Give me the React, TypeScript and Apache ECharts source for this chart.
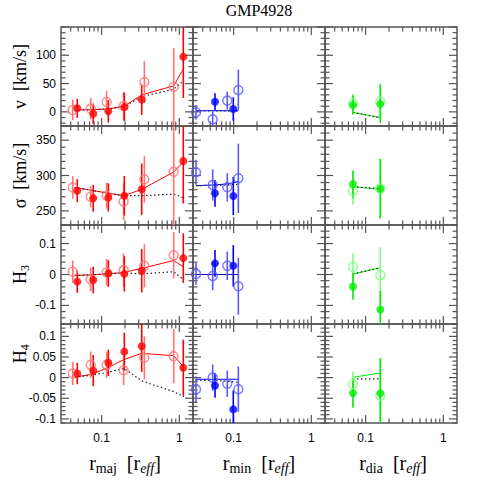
import React, { useEffect, useRef } from 'react';
import * as echarts from 'echarts';

const TITLE = 'GMP4928';

// ---- x axis (log radius) ----
const X_RANGE = [0.03, 1.5];
const X_MAJOR_TICKS = [0.1, 1];
const X_MINOR_TICKS = [0.04, 0.05, 0.06, 0.07, 0.08, 0.09, 0.2, 0.3, 0.4, 0.5, 0.6, 0.7, 0.8, 0.9];
const X_TICK_LABELS = [0.1, 1];

// ---- y rows ----
const V_RANGE = [-25, 150];
const V_LABELS = [0, 50, 100];
const S_RANGE = [230, 370];
const S_LABELS = [250, 300, 350];
const H3_RANGE = [-0.16, 0.16];
const H3_LABELS = [-0.1, 0, 0.1];
const H4_RANGE = [-0.11, 0.13];
const H4_LABELS = [-0.1, -0.05, 0, 0.05, 0.1];

// ---- major axis (red) ----
const MAJ_OPEN_R = [0.0425, 0.0723, 0.116, 0.192, 0.355, 0.846];
const MAJ_FILL_R = [0.0486, 0.078, 0.122, 0.196, 0.328, 1.125];
const MAJ_LINE_R = [0.045, 0.075, 0.12, 0.194, 0.33, 0.846, 1.15];

const MAJ_V_OPEN = [3.4, 5.7, 17.5, 10.4, 52.8, 44.5];
const MAJ_V_OPEN_ERR = [18, 19, 20, 25, 37, 68];
const MAJ_V_FILL = [6.3, -3.2, 1, 8.7, 21.6, 97.5];
const MAJ_V_FILL_ERR = [17, 18, 20, 25, 27, 73];
const MAJ_V_MODEL = [3, 4, 5, 10, 30, 46, 78];
const MAJ_V_MODEL2 = [3, 4, 5, 9, 27, 40, 56];

const MAJ_S_OPEN = [283, 270, 271.4, 263, 294.6, 305.4];
const MAJ_S_OPEN_ERR = [16, 15, 18, 26, 33, 80];
const MAJ_S_FILL = [278.5, 267.7, 269, 271.4, 280.5, 320.5];
const MAJ_S_FILL_ERR = [16.5, 19, 20, 28, 36.5, 60];
const MAJ_S_MODEL = [283, 279, 275, 271.4, 280.5, 305, 320];
const MAJ_S_MODEL2 = [283, 279, 275, 271.4, 271.4, 273.7, 268.5];

const MAJ_H3_OPEN = [0.009, -0.016, 0.007, 0.014, 0.028, 0.062];
const MAJ_H3_OPEN_ERR = [0.036, 0.038, 0.043, 0.054, 0.07, 0.075];
const MAJ_H3_FILL = [-0.023, -0.018, 0.003, 0.002, 0.012, 0.053];
const MAJ_H3_FILL_ERR = [0.036, 0.043, 0.043, 0.057, 0.07, 0.08];
const MAJ_H3_MODEL = [-0.003, -0.001, 0.002, 0.007, 0.02, 0.045, 0.023];
const MAJ_H3_MODEL2 = [-0.003, -0.001, 0.002, 0.005, 0.002, 0.009, -0.018];

const MAJ_H4_OPEN = [0.01, 0.031, 0.031, 0.018, 0.048, 0.052];
const MAJ_H4_OPEN_ERR = [0.028, 0.032, 0.032, 0.036, 0.052, 0.066];
const MAJ_H4_FILL = [0.01, 0.017, 0.036, 0.063, 0.076, 0.024];
const MAJ_H4_FILL_ERR = [0.026, 0.038, 0.032, 0.046, 0.062, 0.068];
const MAJ_H4_MODEL = [0.001, 0.008, 0.024, 0.044, 0.059, 0.053, 0.025];
const MAJ_H4_MODEL2 = [0.001, 0.006, 0.013, 0.0225, -0.008, -0.034, -0.046];

// ---- minor axis (blue) ----
const MIN_OPEN_R = [0.0328, 0.0538, 0.0828, 0.115];
const MIN_FILL_R = [0.0576, 0.099];
const MIN_LINE_R = [0.0328, 0.0538, 0.0828, 0.115];

const MIN_V_OPEN = [-0.7, -13, 19.8, 38.7];
const MIN_V_OPEN_ERR = [13, 13, 16, 36];
const MIN_V_FILL = [18, 5];
const MIN_V_FILL_ERR = [15, 20.6];
const MIN_V_MODEL = [2, 2, 2, 2];
const MIN_V_MODEL2 = [1.5, 1.5, 1.5, 1.5];

const MIN_S_OPEN = [304.5, 286.6, 283.3, 296];
const MIN_S_OPEN_ERR = [17.7, 22, 20, 49];
const MIN_S_FILL = [274.8, 271];
const MIN_S_FILL_ERR = [19, 27];
const MIN_S_MODEL = [285.6, 286.6, 288, 291.3];
const MIN_S_MODEL2 = [285.6, 286.2, 286.6, 287.5];

const MIN_H3_OPEN = [0.002, -0.005, 0.028, -0.038];
const MIN_H3_OPEN_ERR = [0.035, 0.046, 0.046, 0.092];
const MIN_H3_FILL = [0.036, 0.028];
const MIN_H3_FILL_ERR = [0.043, 0.067];
const MIN_H3_MODEL = [0, 0, 0, 0];
const MIN_H3_MODEL2 = [0, 0, 0, 0];

const MIN_H4_OPEN = [-0.028, 0.0, -0.015, -0.028];
const MIN_H4_OPEN_ERR = [0.031, 0.032, 0.032, 0.055];
const MIN_H4_FILL = [-0.019, -0.077];
const MIN_H4_FILL_ERR = [0.03, 0.046];
const MIN_H4_MODEL = [-0.004, -0.004, -0.004, -0.004];
const MIN_H4_MODEL2 = [-0.006, -0.007, -0.009, -0.011];

// ---- diagonal (green) ----
const DIA_R = [0.0687, 0.1545];

const DIA_V_OPEN = [15.2, 18];
const DIA_V_OPEN_ERR = [16, 32];
const DIA_V_FILL = [12.2, 14];
const DIA_V_FILL_ERR = [17, 34];
const DIA_V_MODEL = [-1, -10];
const DIA_V_MODEL2 = [-1, -10.5];

const DIA_S_OPEN = [278, 281.5];
const DIA_S_OPEN_ERR = [19, 42];
const DIA_S_FILL = [288, 281.3];
const DIA_S_FILL_ERR = [19, 42];
const DIA_S_MODEL = [284.2, 280.5];
const DIA_S_MODEL2 = [284.2, 281.5];

const DIA_H3_OPEN = [0.024, -0.002];
const DIA_H3_OPEN_ERR = [0.045, 0.09];
const DIA_H3_FILL = [-0.039, -0.113];
const DIA_H3_FILL_ERR = [0.043, 0.06];
const DIA_H3_MODEL = [0.0015, 0.022];
const DIA_H3_MODEL2 = [0.0015, 0.022];

const DIA_H4_OPEN = [-0.016, -0.044];
const DIA_H4_OPEN_ERR = [0.03, 0.09];
const DIA_H4_FILL = [-0.038, -0.038];
const DIA_H4_FILL_ERR = [0.035, 0.085];
const DIA_H4_MODEL = [0.001, 0.011];
const DIA_H4_MODEL2 = [-0.003, -0.003];

// ---------- layout / style ----------
const GRID_LEFT = 61;
const GRID_TOP = 27;
const CELL_W = 132;
const CELL_H = 99;
const FRAME = '#555555';
const SERIF = "'Liberation Serif', 'DejaVu Serif', serif";
const SANS = "'Liberation Sans', Arial, sans-serif";

const COLORS = [
  { solid: '#ff0000', light: '#ff7272' },
  { solid: '#0000ff', light: '#5a5aff' },
  { solid: '#00ee00', light: '#7dff7d' },
];

const ROWS = [
  { range: V_RANGE, labels: V_LABELS, major: 50, minor: 10, labelStep: 25 },
  { range: S_RANGE, labels: S_LABELS, major: 50, minor: 10, labelStep: 10 },
  { range: H3_RANGE, labels: H3_LABELS, major: 0.1, minor: 0.02, labelStep: 0.02 },
  { range: H4_RANGE, labels: H4_LABELS, major: 0.05, minor: 0.01, labelStep: 0.01 },
];

type Panel = {
  openR: number[]; open: number[]; openErr: number[];
  fillR: number[]; fill: number[]; fillErr: number[];
  lineR: number[]; model: number[]; model2: number[];
};

const PANELS: Panel[][] = [
  [
    { openR: MAJ_OPEN_R, open: MAJ_V_OPEN, openErr: MAJ_V_OPEN_ERR, fillR: MAJ_FILL_R, fill: MAJ_V_FILL, fillErr: MAJ_V_FILL_ERR, lineR: MAJ_LINE_R, model: MAJ_V_MODEL, model2: MAJ_V_MODEL2 },
    { openR: MIN_OPEN_R, open: MIN_V_OPEN, openErr: MIN_V_OPEN_ERR, fillR: MIN_FILL_R, fill: MIN_V_FILL, fillErr: MIN_V_FILL_ERR, lineR: MIN_LINE_R, model: MIN_V_MODEL, model2: MIN_V_MODEL2 },
    { openR: DIA_R, open: DIA_V_OPEN, openErr: DIA_V_OPEN_ERR, fillR: DIA_R, fill: DIA_V_FILL, fillErr: DIA_V_FILL_ERR, lineR: DIA_R, model: DIA_V_MODEL, model2: DIA_V_MODEL2 },
  ],
  [
    { openR: MAJ_OPEN_R, open: MAJ_S_OPEN, openErr: MAJ_S_OPEN_ERR, fillR: MAJ_FILL_R, fill: MAJ_S_FILL, fillErr: MAJ_S_FILL_ERR, lineR: MAJ_LINE_R, model: MAJ_S_MODEL, model2: MAJ_S_MODEL2 },
    { openR: MIN_OPEN_R, open: MIN_S_OPEN, openErr: MIN_S_OPEN_ERR, fillR: MIN_FILL_R, fill: MIN_S_FILL, fillErr: MIN_S_FILL_ERR, lineR: MIN_LINE_R, model: MIN_S_MODEL, model2: MIN_S_MODEL2 },
    { openR: DIA_R, open: DIA_S_OPEN, openErr: DIA_S_OPEN_ERR, fillR: DIA_R, fill: DIA_S_FILL, fillErr: DIA_S_FILL_ERR, lineR: DIA_R, model: DIA_S_MODEL, model2: DIA_S_MODEL2 },
  ],
  [
    { openR: MAJ_OPEN_R, open: MAJ_H3_OPEN, openErr: MAJ_H3_OPEN_ERR, fillR: MAJ_FILL_R, fill: MAJ_H3_FILL, fillErr: MAJ_H3_FILL_ERR, lineR: MAJ_LINE_R, model: MAJ_H3_MODEL, model2: MAJ_H3_MODEL2 },
    { openR: MIN_OPEN_R, open: MIN_H3_OPEN, openErr: MIN_H3_OPEN_ERR, fillR: MIN_FILL_R, fill: MIN_H3_FILL, fillErr: MIN_H3_FILL_ERR, lineR: MIN_LINE_R, model: MIN_H3_MODEL, model2: MIN_H3_MODEL2 },
    { openR: DIA_R, open: DIA_H3_OPEN, openErr: DIA_H3_OPEN_ERR, fillR: DIA_R, fill: DIA_H3_FILL, fillErr: DIA_H3_FILL_ERR, lineR: DIA_R, model: DIA_H3_MODEL, model2: DIA_H3_MODEL2 },
  ],
  [
    { openR: MAJ_OPEN_R, open: MAJ_H4_OPEN, openErr: MAJ_H4_OPEN_ERR, fillR: MAJ_FILL_R, fill: MAJ_H4_FILL, fillErr: MAJ_H4_FILL_ERR, lineR: MAJ_LINE_R, model: MAJ_H4_MODEL, model2: MAJ_H4_MODEL2 },
    { openR: MIN_OPEN_R, open: MIN_H4_OPEN, openErr: MIN_H4_OPEN_ERR, fillR: MIN_FILL_R, fill: MIN_H4_FILL, fillErr: MIN_H4_FILL_ERR, lineR: MIN_LINE_R, model: MIN_H4_MODEL, model2: MIN_H4_MODEL2 },
    { openR: DIA_R, open: DIA_H4_OPEN, openErr: DIA_H4_OPEN_ERR, fillR: DIA_R, fill: DIA_H4_FILL, fillErr: DIA_H4_FILL_ERR, lineR: DIA_R, model: DIA_H4_MODEL, model2: DIA_H4_MODEL2 },
  ],
];

const near = (a: number, b: number) => Math.abs(a - b) < 1e-7;

function yTicks(row: any) {
  const out: number[][] = [];
  const start = Math.ceil(row.range[0] / row.minor - 1e-9);
  const end = Math.floor(row.range[1] / row.minor + 1e-9);
  for (let k = start; k <= end; k++) {
    const v = +(k * row.minor).toFixed(6);
    const q = v / row.major;
    out.push([0.1, v, near(q, Math.round(q)) ? 1 : 0]);
  }
  return out;
}

function buildOption() {
  const grid: any[] = [];
  const xAxis: any[] = [];
  const yAxis: any[] = [];
  const series: any[] = [];

  const xTickData = [
    ...X_MAJOR_TICKS.map((v) => [v, 0, 1]),
    ...X_MINOR_TICKS.map((v) => [v, 0, 0]),
  ];

  ROWS.forEach((row, r) => {
    const lo = row.range[0];
    const hi = row.range[1];
    const clamp = (v: number) => Math.max(lo, Math.min(hi, v));
    const yTickData = yTicks(row);
    for (let c = 0; c < 3; c++) {
      const g = r * 3 + c;
      const col = COLORS[c];
      const p = PANELS[r][c];
      grid.push({
        left: GRID_LEFT + c * CELL_W,
        top: GRID_TOP + r * CELL_H,
        width: CELL_W,
        height: CELL_H,
        show: true,
        borderColor: FRAME,
        borderWidth: 1.5,
        backgroundColor: 'transparent',
      });
      xAxis.push({
        type: 'log',
        logBase: 10,
        gridIndex: g,
        min: X_RANGE[0],
        max: X_RANGE[1],
        axisLine: { show: false },
        axisTick: { show: false },
        splitLine: { show: false },
        axisLabel: {
          show: r === 3,
          fontFamily: SANS,
          fontSize: 12,
          color: '#000',
          margin: 9,
          showMinLabel: true,
          showMaxLabel: true,
          formatter: (v: number) => {
            const m = X_TICK_LABELS.find((t) => Math.abs(Math.log10(v) - Math.log10(t)) < 0.005);
            return m === undefined ? '' : String(m);
          },
        },
      });
      yAxis.push({
        type: 'value',
        gridIndex: g,
        min: lo,
        max: hi,
        interval: row.labelStep,
        axisLine: { show: false },
        axisTick: { show: false },
        splitLine: { show: false },
        axisLabel: {
          show: c === 0,
          fontFamily: SANS,
          fontSize: 12,
          color: '#000',
          margin: 5,
          formatter: (v: number) => {
            const m = row.labels.find((t) => near(t, v));
            return m === undefined ? '' : String(m);
          },
        },
      });

      // x ticks (top + bottom, inward)
      series.push({
        type: 'custom',
        xAxisIndex: g,
        yAxisIndex: g,
        silent: true,
        z: 1,
        data: xTickData.map((d) => [d[0], lo, d[2]]),
        encode: { x: 0, y: 1 },
        renderItem: (params: any, api: any) => {
          const cs = params.coordSys;
          const px = api.coord([api.value(0), lo])[0];
          const len = api.value(2) === 1 ? 8 : 4.5;
          const st = { stroke: FRAME, lineWidth: 1.2 };
          return {
            type: 'group',
            children: [
              { type: 'line', shape: { x1: px, y1: cs.y + cs.height, x2: px, y2: cs.y + cs.height - len }, style: st },
              { type: 'line', shape: { x1: px, y1: cs.y, x2: px, y2: cs.y + len }, style: st },
            ],
          };
        },
      });
      // y ticks (left + right, inward)
      series.push({
        type: 'custom',
        xAxisIndex: g,
        yAxisIndex: g,
        silent: true,
        z: 1,
        data: yTickData,
        encode: { x: 0, y: 1 },
        renderItem: (params: any, api: any) => {
          const cs = params.coordSys;
          const py = api.coord([0.1, api.value(1)])[1];
          const len = api.value(2) === 1 ? 8 : 4.5;
          const st = { stroke: FRAME, lineWidth: 1.2 };
          return {
            type: 'group',
            children: [
              { type: 'line', shape: { x1: cs.x, y1: py, x2: cs.x + len, y2: py }, style: st },
              { type: 'line', shape: { x1: cs.x + cs.width, y1: py, x2: cs.x + cs.width - len, y2: py }, style: st },
            ],
          };
        },
      });
      // model lines
      series.push({
        type: 'line',
        xAxisIndex: g,
        yAxisIndex: g,
        data: p.lineR.map((x, i) => [x, p.model[i]]),
        symbol: 'none',
        silent: true,
        z: 2,
        lineStyle: { color: col.solid, width: 1 },
      });
      series.push({
        type: 'line',
        xAxisIndex: g,
        yAxisIndex: g,
        data: p.lineR.map((x, i) => [x, p.model2[i]]),
        symbol: 'none',
        silent: true,
        z: 2,
        lineStyle: { color: '#222', width: 1.2, type: [1.5, 2.5] },
      });
      // error bars
      const errSeries = (xs: number[], ys: number[], es: number[], color: string, z: number) => ({
        type: 'custom',
        xAxisIndex: g,
        yAxisIndex: g,
        silent: true,
        z,
        data: xs.map((x, i) => [x, clamp(ys[i] - es[i]), clamp(ys[i] + es[i])]),
        encode: { x: 0, y: [1, 2] },
        renderItem: (params: any, api: any) => {
          const a = api.coord([api.value(0), api.value(1)]);
          const b = api.coord([api.value(0), api.value(2)]);
          return {
            type: 'line',
            shape: { x1: a[0], y1: a[1], x2: b[0], y2: b[1] },
            style: { stroke: color, lineWidth: 1.6 },
          };
        },
      });
      series.push(errSeries(p.openR, p.open, p.openErr, col.light, 3));
      series.push(errSeries(p.fillR, p.fill, p.fillErr, col.solid, 4));
      // markers
      series.push({
        type: 'scatter',
        xAxisIndex: g,
        yAxisIndex: g,
        silent: true,
        z: 5,
        symbol: 'circle',
        symbolSize: 9,
        data: p.openR.map((x, i) => [x, p.open[i]]),
        itemStyle: { color: 'rgba(255,255,255,0)', borderColor: col.light, borderWidth: 1.5 },
      });
      series.push({
        type: 'scatter',
        xAxisIndex: g,
        yAxisIndex: g,
        silent: true,
        z: 6,
        symbol: 'circle',
        symbolSize: 8,
        data: p.fillR.map((x, i) => [x, p.fill[i]]),
        itemStyle: { color: col.solid },
      });
    }
  });

  const mainY = { fontFamily: SERIF, fontSize: 18, lineHeight: 22, fill: '#000', color: '#000' };
  const subY = { fontFamily: SERIF, fontSize: 12, lineHeight: 12, padding: [10, 0, 0, 0], fill: '#000', color: '#000' };
  const mainX = { fontFamily: SERIF, fontSize: 20, lineHeight: 24, fill: '#000', color: '#000' };
  const subX = { fontFamily: SERIF, fontSize: 14, lineHeight: 14, padding: [11, 0, 0, 0], fill: '#000', color: '#000' };
  const subXI = { ...subX, fontStyle: 'italic' };
  const titleStyle = { fontFamily: SERIF, fontSize: 16, lineHeight: 18, fill: '#000', color: '#000' };

  const yTitle = (text: string, cy: number) => ({
    type: 'text',
    x: 20,
    y: cy,
    rotation: Math.PI / 2,
    style: {
      text,
      x: 0,
      y: 0,
      align: 'center',
      verticalAlign: 'middle',
      textAlign: 'center',
      textVerticalAlign: 'middle',
      rich: { m: mainY, s: subY },
    },
  });
  const xTitle = (subText: string, cx: number) => ({
    type: 'text',
    x: cx,
    y: 463,
    style: {
      text: `{m|r}{s|${subText}}{m|  [r}{si|eff}{m|]}`,
      x: 0,
      y: 0,
      align: 'center',
      verticalAlign: 'middle',
      textAlign: 'center',
      textVerticalAlign: 'middle',
      rich: { m: mainX, s: subX, si: subXI },
    },
  });

  const graphic = [
    {
      type: 'text',
      x: GRID_LEFT + 1.5 * CELL_W,
      y: 10,
      style: {
        text: `{t|${TITLE}}`,
        x: 0,
        y: 0,
        align: 'center',
        verticalAlign: 'middle',
        textAlign: 'center',
        textVerticalAlign: 'middle',
        rich: { t: titleStyle },
      },
    },
    yTitle('{m|v  [km/s]}', GRID_TOP + 0.5 * CELL_H),
    yTitle('{m|σ  [km/s]}', GRID_TOP + 1.5 * CELL_H),
    yTitle('{m|H}{s|3}', GRID_TOP + 2.5 * CELL_H),
    yTitle('{m|H}{s|4}', GRID_TOP + 3.3 * CELL_H),
    xTitle('maj', GRID_LEFT + 0.5 * CELL_W - 2),
    xTitle('min', GRID_LEFT + 1.5 * CELL_W),
    xTitle('dia', GRID_LEFT + 2.5 * CELL_W + 2),
  ];

  return {
    animation: false,
    backgroundColor: '#fff',
    grid,
    xAxis,
    yAxis,
    series,
    graphic,
  };
}

export default function App() {
  const ref = useRef<HTMLDivElement>(null);
  useEffect(() => {
    if (!ref.current) return;
    const chart = echarts.init(ref.current, null, { renderer: 'svg' });
    chart.setOption(buildOption() as any);
    return () => chart.dispose();
  }, []);
  return (
    <div
      ref={ref}
      style={{ position: 'absolute', left: 0, top: 0, width: 491, height: 491 }}
    />
  );
}
